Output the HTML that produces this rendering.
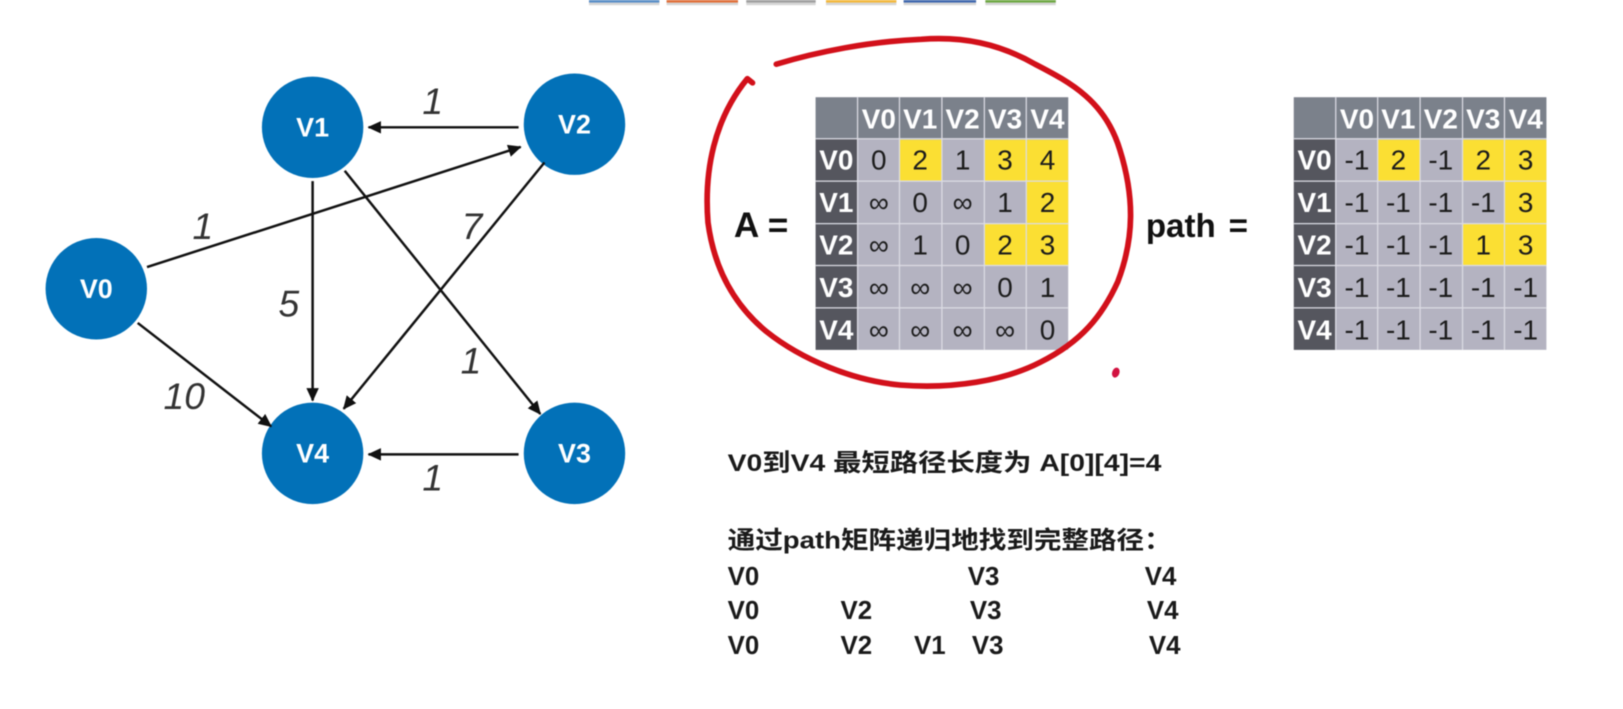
<!DOCTYPE html>
<html>
<head>
<meta charset="utf-8">
<style>
html,body{margin:0;padding:0;background:#fff;width:1623px;height:709px;overflow:hidden}
svg{display:block;filter:blur(.45px)}
text{font-family:"Liberation Sans","Noto Sans CJK SC",sans-serif}
.n{font-size:26px;font-weight:bold;fill:#fff;text-anchor:middle}
.w{font-size:36px;font-style:italic;fill:#333;text-anchor:middle}
.e{stroke:#111;stroke-width:2.4;fill:none;marker-end:url(#a)}
.h{font-size:27px;font-weight:bold;fill:#fff;text-anchor:middle}
.c{font-size:27px;fill:#1c1c1c;text-anchor:middle}
.t{font-size:25px;font-weight:bold;fill:#1a1a1a}
.b{font-size:23.5px;font-weight:bold;fill:#1a1a1a}
</style>
</head>
<body>
<svg width="1623" height="709" viewBox="0 0 1568 685" xmlns="http://www.w3.org/2000/svg">
<defs>
<marker id="a" markerWidth="14" markerHeight="12" refX="12" refY="6" orient="auto" markerUnits="userSpaceOnUse"><path d="M0 0L13 6L0 12z" fill="#111"/></marker>
</defs>
<rect width="1568" height="685" fill="#fff"/>

<!-- top bars -->
<g>
<rect x="569" y="0" width="68" height="5" fill="#bbb" opacity=".6"/><rect x="569" y="0" width="68" height="2.5" fill="#5b8fc7"/>
<rect x="644" y="0" width="69" height="5" fill="#bbb" opacity=".6"/><rect x="644" y="0" width="69" height="2.5" fill="#e0703c"/>
<rect x="721" y="0" width="67" height="5" fill="#bbb" opacity=".6"/><rect x="721" y="0" width="67" height="2.5" fill="#a0a0a0"/>
<rect x="798" y="0" width="68" height="5" fill="#bbb" opacity=".6"/><rect x="798" y="0" width="68" height="2.5" fill="#f3b93f"/>
<rect x="873" y="0" width="70" height="5" fill="#bbb" opacity=".6"/><rect x="873" y="0" width="70" height="2.5" fill="#4169ae"/>
<rect x="952" y="0" width="68" height="5" fill="#bbb" opacity=".6"/><rect x="952" y="0" width="68" height="2.5" fill="#6fa844"/>
</g>

<!-- graph -->
<g fill="#0271b8">
<circle cx="93" cy="279" r="49"/><circle cx="302" cy="123" r="49"/><circle cx="555" cy="120" r="49"/><circle cx="555" cy="438" r="49"/><circle cx="302" cy="438" r="49"/>
</g>
<text class="n" x="93" y="288">V0</text><text class="n" x="302" y="132">V1</text><text class="n" x="555" y="129">V2</text><text class="n" x="555" y="447">V3</text><text class="n" x="302" y="447">V4</text>
<line class="e" x1="501" y1="123" x2="356" y2="123"/>
<line class="e" x1="142" y1="258" x2="503" y2="142"/>
<line class="e" x1="302" y1="175" x2="302" y2="387"/>
<line class="e" x1="526" y1="157" x2="332" y2="395"/>
<line class="e" x1="333" y1="165" x2="522" y2="400"/>
<line class="e" x1="133" y1="312" x2="262" y2="412"/>
<line class="e" x1="501" y1="439" x2="356" y2="439"/>
<text class="w" x="418" y="110">1</text>
<text class="w" x="196" y="231">1</text>
<text class="w" x="456" y="231">7</text>
<text class="w" x="279" y="306">5</text>
<text class="w" x="455" y="361">1</text>
<text class="w" x="178" y="395">10</text>
<text class="w" x="418" y="474">1</text>

<!-- Table A -->
<rect x="788" y="94" width="244" height="244" fill="#b4b3c1"/>
<rect x="788" y="94" width="244" height="40" fill="#7b818b"/>
<rect x="788" y="134" width="40" height="204" fill="#55565e"/>
<g fill="#fbdf33">
<rect x="869" y="135" width="41" height="40"/><rect x="951" y="135" width="81" height="40"/><rect x="992" y="175" width="40" height="41"/><rect x="951" y="216" width="81" height="40"/>
</g>
<g stroke="#dcdce4" stroke-width="1.2">
<path d="M828.500 94V338M869 94V338M910 94V338M951 94V338M991.500 94V338M788 134H1032M788 175H1032M788 216H1032M788 256.500H1032M788 297.500H1032"/>
</g>
<g>
<text class="h" x="849" y="124">V0</text><text class="h" x="889" y="124">V1</text><text class="h" x="930" y="124">V2</text><text class="h" x="971" y="124">V3</text><text class="h" x="1012" y="124">V4</text>
<text class="h" x="808" y="164">V0</text><text class="h" x="808" y="205">V1</text><text class="h" x="808" y="246">V2</text><text class="h" x="808" y="287">V3</text><text class="h" x="808" y="328">V4</text>
</g>
<g>
<text class="c" x="849" y="164">0</text><text class="c" x="889" y="164">2</text><text class="c" x="930" y="164">1</text><text class="c" x="971" y="164">3</text><text class="c" x="1012" y="164">4</text>
<text class="c" x="849" y="205">∞</text><text class="c" x="889" y="205">0</text><text class="c" x="930" y="205">∞</text><text class="c" x="971" y="205">1</text><text class="c" x="1012" y="205">2</text>
<text class="c" x="849" y="246">∞</text><text class="c" x="889" y="246">1</text><text class="c" x="930" y="246">0</text><text class="c" x="971" y="246">2</text><text class="c" x="1012" y="246">3</text>
<text class="c" x="849" y="287">∞</text><text class="c" x="889" y="287">∞</text><text class="c" x="930" y="287">∞</text><text class="c" x="971" y="287">0</text><text class="c" x="1012" y="287">1</text>
<text class="c" x="849" y="328">∞</text><text class="c" x="889" y="328">∞</text><text class="c" x="930" y="328">∞</text><text class="c" x="971" y="328">∞</text><text class="c" x="1012" y="328">0</text>
</g>
<text x="709" y="229" font-size="34" font-weight="bold" fill="#111">A =</text>

<!-- Red circle -->
<path d="M750 62C790 50 840 40 890 38C930 35 965 42 1000 62C1035 80 1068 98 1082 145C1096 190 1096 230 1080 272C1065 305 1045 330 1005 350C970 368 920 376 870 372C825 368 775 348 740 320C710 295 690 260 684 215C680 165 690 115 722 76L727 80" fill="none" stroke="#d2101a" stroke-width="5.500" stroke-linecap="round" stroke-linejoin="round"/>
<ellipse cx="1078" cy="360" rx="3.500" ry="5" fill="#d21240" transform="rotate(20 1078 360)"/>

<!-- path label -->
<text x="1107" y="229" font-size="32" font-weight="bold" fill="#111">path</text>
<text x="1187" y="229" font-size="32" font-weight="bold" fill="#111">=</text>

<!-- Table path -->
<rect x="1250" y="94" width="244" height="244" fill="#b4b3c1"/>
<rect x="1250" y="94" width="244" height="40" fill="#7b818b"/>
<rect x="1250" y="134" width="40" height="204" fill="#55565e"/>
<g fill="#fbdf33">
<rect x="1331" y="135" width="41" height="40"/><rect x="1413" y="135" width="81" height="40"/><rect x="1454" y="175" width="40" height="41"/><rect x="1413" y="216" width="81" height="40"/>
</g>
<g stroke="#dcdce4" stroke-width="1.2">
<path d="M1290.500 94V338M1331 94V338M1372 94V338M1413 94V338M1453.500 94V338M1250 134H1494M1250 175H1494M1250 216H1494M1250 256.500H1494M1250 297.500H1494"/>
</g>
<g>
<text class="h" x="1311" y="124">V0</text><text class="h" x="1351" y="124">V1</text><text class="h" x="1392" y="124">V2</text><text class="h" x="1433" y="124">V3</text><text class="h" x="1474" y="124">V4</text>
<text class="h" x="1270" y="164">V0</text><text class="h" x="1270" y="205">V1</text><text class="h" x="1270" y="246">V2</text><text class="h" x="1270" y="287">V3</text><text class="h" x="1270" y="328">V4</text>
</g>
<g>
<text class="c" x="1311" y="164">-1</text><text class="c" x="1351" y="164">2</text><text class="c" x="1392" y="164">-1</text><text class="c" x="1433" y="164">2</text><text class="c" x="1474" y="164">3</text>
<text class="c" x="1311" y="205">-1</text><text class="c" x="1351" y="205">-1</text><text class="c" x="1392" y="205">-1</text><text class="c" x="1433" y="205">-1</text><text class="c" x="1474" y="205">3</text>
<text class="c" x="1311" y="246">-1</text><text class="c" x="1351" y="246">-1</text><text class="c" x="1392" y="246">-1</text><text class="c" x="1433" y="246">1</text><text class="c" x="1474" y="246">3</text>
<text class="c" x="1311" y="287">-1</text><text class="c" x="1351" y="287">-1</text><text class="c" x="1392" y="287">-1</text><text class="c" x="1433" y="287">-1</text><text class="c" x="1474" y="287">-1</text>
<text class="c" x="1311" y="328">-1</text><text class="c" x="1351" y="328">-1</text><text class="c" x="1392" y="328">-1</text><text class="c" x="1433" y="328">-1</text><text class="c" x="1474" y="328">-1</text>
</g>

<!-- Bottom text -->
<text class="b" x="703" y="455" textLength="419" lengthAdjust="spacingAndGlyphs">V0到V4 最短路径长度为 A[0][4]=4</text>
<text class="b" x="703" y="530" textLength="429" lengthAdjust="spacingAndGlyphs">通过path矩阵递归地找到完整路径：</text>
<text class="t" x="703" y="565">V0</text><text class="t" x="935" y="565">V3</text><text class="t" x="1106" y="565">V4</text>
<text class="t" x="703" y="598">V0</text><text class="t" x="812" y="598">V2</text><text class="t" x="937" y="598">V3</text><text class="t" x="1108" y="598">V4</text>
<text class="t" x="703" y="632">V0</text><text class="t" x="812" y="632">V2</text><text class="t" x="883" y="632">V1</text><text class="t" x="939" y="632">V3</text><text class="t" x="1110" y="632">V4</text>
</svg>
</body>
</html>
